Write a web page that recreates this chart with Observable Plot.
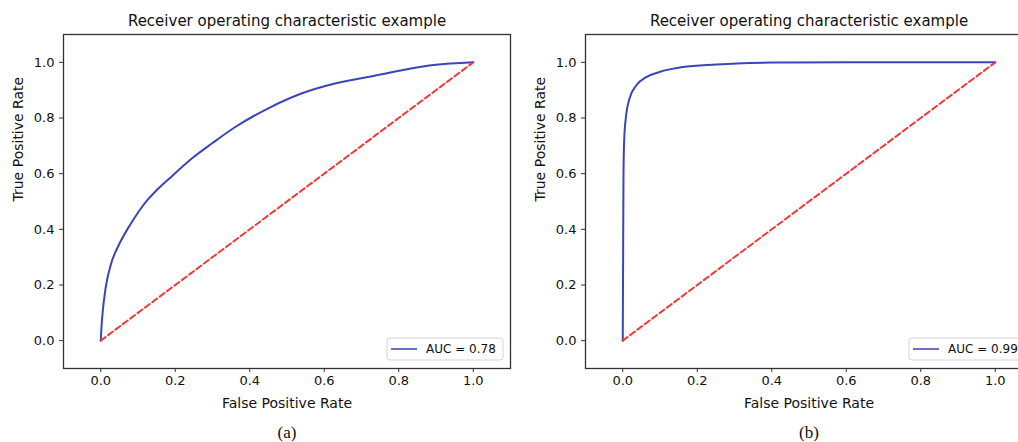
<!DOCTYPE html>
<html>
<head>
<meta charset="utf-8">
<script src="https://cdn.jsdelivr.net/npm/d3@7"></script>
<script src="https://cdn.jsdelivr.net/npm/@observablehq/plot@0.6"></script>
<style>
  html, body { margin: 0; padding: 0; background: #fff; }
  body { width: 1018px; height: 442px; overflow: hidden; position: relative; }
  .panel { position: absolute; top: 0; }
  .panel svg { max-width: none !important; }
</style>
</head>
<body>
<div id="a" class="panel" style="left:0px; width:520px"></div>
<div id="b" class="panel" style="left:522px; width:520px"></div>
<script>
// ---- data ----
const titleText = "Receiver operating characteristic example";
const xLabel = "False Positive Rate";
const yLabel = "True Positive Rate";
const tickValues = [0, 0.2, 0.4, 0.6, 0.8, 1.0];
const chanceFpr = [0, 1];
const chanceTpr = [0, 1];

const fprA = [0, 0.002, 0.0045, 0.013, 0.027, 0.049, 0.076, 0.103, 0.125, 0.146, 0.192, 0.246, 0.30, 0.358, 0.447, 0.537, 0.626, 0.716, 0.805, 0.894, 1.0];
const tprA = [0, 0.05, 0.093, 0.189, 0.273, 0.345, 0.41, 0.466, 0.505, 0.535, 0.592, 0.656, 0.710, 0.765, 0.833, 0.887, 0.923, 0.947, 0.971, 0.990, 1.0];
const aucA = "AUC = 0.78";
const captionA = "(a)";

const fprB = [0, 0.001, 0.002, 0.004, 0.009, 0.018, 0.036, 0.063, 0.098, 0.161, 0.251, 0.305, 0.4, 0.6, 1.0];
const tprB = [0, 0.3, 0.6, 0.725, 0.809, 0.869, 0.917, 0.947, 0.965, 0.983, 0.992, 0.996, 0.999, 1.0, 1.0];
const aucB = "AUC = 0.99";
const captionB = "(b)";

const blue = "#3b45b5";
const red = "#f03a3a";

function legendMark(label) {
  return (index, scales, values, dims) => {
    const {width, marginRight, height, marginBottom} = dims;
    const right = width - marginRight - 7;
    const bottom = height - marginBottom - 8;
    const w = 116, h = 22;
    const left = right - w, top = bottom - h;
    const g = d3.create("svg:g");
    g.append("rect").attr("x", left).attr("y", top).attr("width", w).attr("height", h)
      .attr("rx", 3).attr("fill", "white").attr("fill-opacity", 0.85)
      .attr("stroke", "#d4d4d4").attr("stroke-width", 1);
    g.append("line").attr("x1", left + 4).attr("x2", left + 30)
      .attr("y1", top + h / 2).attr("y2", top + h / 2)
      .attr("stroke", "#5b5fc0").attr("stroke-width", 1.8);
    g.append("text").attr("x", left + 39).attr("y", top + h / 2).attr("dy", "0.35em")
      .attr("text-anchor", "start")
      .attr("font-family", "DejaVu Sans").attr("font-size", 12).attr("fill", "#111")
      .text(label);
    return g.node();
  };
}

function rocPlot(fpr, tpr, auc, caption, width) {
  const curve = fpr.map((f, i) => ({fpr: f, tpr: tpr[i]}));
  const chance = chanceFpr.map((f, i) => ({fpr: f, tpr: chanceTpr[i]}));
  return Plot.plot({
    width,
    height: 442,
    marginLeft: 63,
    marginRight: width - 510,
    marginTop: 34,
    marginBottom: 74,
    style: {fontFamily: "DejaVu Sans", fontSize: "13px", color: "#111", background: "white", overflow: "visible"},
    x: {domain: [-0.1, 1.1], label: null},
    y: {domain: [-0.1, 1.1], label: null},
    marks: [
      Plot.line(curve, {x: "fpr", y: "tpr", stroke: blue, strokeWidth: 2, curve: "monotone-x"}),
      Plot.line(chance, {x: "fpr", y: "tpr", stroke: red, strokeWidth: 2, strokeDasharray: "6,3.2"}),
      Plot.frame({stroke: "#333", strokeWidth: 1.3}),
      Plot.axisX({ticks: tickValues, tickFormat: d3.format(".1f"), tickSize: 4, tickPadding: 3, label: null, stroke: "#333"}),
      Plot.axisY({ticks: tickValues, tickFormat: d3.format(".1f"), tickSize: 4, tickPadding: 5, label: null, stroke: "#333"}),
      Plot.text([titleText], {frameAnchor: "top", lineAnchor: "middle", dy: -13, fontSize: 15, fill: "#111"}),
      Plot.text([xLabel], {frameAnchor: "bottom", lineAnchor: "middle", dy: 35, fontSize: 14, fill: "#111"}),
      Plot.text([yLabel], {frameAnchor: "left", lineAnchor: "middle", rotate: -90, dx: -45, fontSize: 14, fill: "#111"}),
      Plot.text([caption], {frameAnchor: "bottom", lineAnchor: "middle", dy: 64, fontSize: 17, fontFamily: "Liberation Serif", fill: "#111"}),
      legendMark(auc)
    ]
  });
}

document.getElementById("a").append(rocPlot(fprA, tprA, aucA, captionA, 520));
document.getElementById("b").append(rocPlot(fprB, tprB, aucB, captionB, 520));
</script>
</body>
</html>
